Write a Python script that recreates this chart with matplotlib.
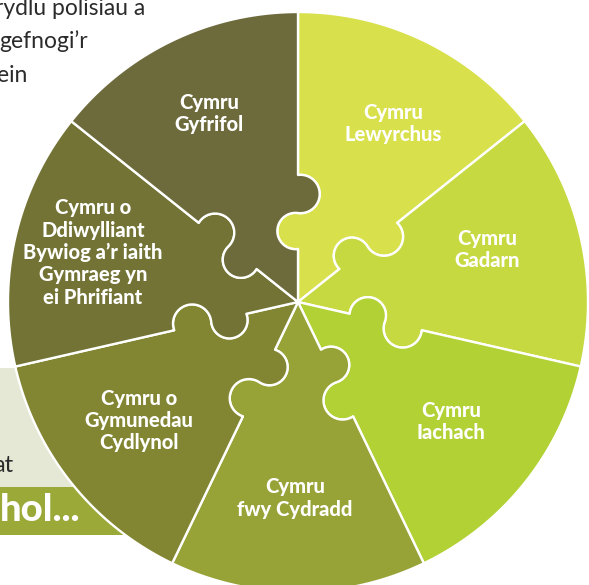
import numpy as np
import matplotlib
matplotlib.use("Agg")
import matplotlib.pyplot as plt
from matplotlib.patches import Polygon, Rectangle

# ---- data ----
labels = [
    "Cymru\nLewyrchus",
    "Cymru\nGadarn",
    "Cymru\nIachach",
    "Cymru\nfwy Cydradd",
    "Cymru o\nGymunedau\nCydlynol",
    "Cymru o\nDdiwylliant\nBywiog a’r iaith\nGymraeg yn\nei Phrifiant",
    "Cymru\nGyfrifol",
]
values = [1, 1, 1, 1, 1, 1, 1]
colors = ["#d8e04b", "#c7d940", "#b1d135", "#98a337", "#828531", "#727334", "#6d6b3c"]
top_text = ["rydlu polisiau a", "gefnogi’r", "ein"]
box_text = "at"
bar_text = "hol..."

plt.rcParams['font.family'] = ['Lato', 'DejaVu Sans']

W, H = 589, 585
fig = plt.figure(figsize=(W / 100, H / 100), dpi=100)
ax = fig.add_axes([0, 0, 1, 1])
cx, cy = 298, 302
ax.set_xlim(-cx, W - cx)
ax.set_ylim(-(H - cy), cy)
ax.set_aspect('equal')
ax.axis('off')

R = 290.0
# small nudges (pixels) of each label from its slice's mid-angle position
label_nudge = [(8, -2), (-6, 8), (-3, 5), (-3, 4), (-3, 6), (-10, 5), (-2, 8)]


def knob(rc, hw, d, side, u, v, n=50):
    rho = np.hypot(hw, d)
    a = np.arcsin(d / rho)
    phi = np.linspace(np.pi + a, -a, n)
    return [(rc + rho * np.cos(p)) * u + side * (d + rho * np.sin(p)) * v for p in phi]


def boundary(theta_deg):
    t = np.radians(theta_deg)
    u = np.array([np.cos(t), np.sin(t)])
    v = np.array([-np.sin(t), np.cos(t)])
    pts = [np.zeros(2)]
    pts += knob(71, 18, 2.5, +1, u, v)   # inner knob, bulging counter-clockwise
    pts += knob(108, 19, 2.5, -1, u, v)  # outer knob, bulging clockwise
    pts.append(R * u)
    return np.array(pts)


# ---- background elements ----
ax.add_patch(Rectangle((-cx, 302 - 487), 250, 487 - 368, facecolor="#e6e8d6",
                       edgecolor="none", zorder=1))
ax.add_patch(Rectangle((-cx, 302 - 535), 250, 535 - 487, facecolor="#9aa937",
                       edgecolor="none", zorder=1))
for txt, xs, yb in zip(top_text, [-5, -1, -3], [15, 48, 82]):
    ax.text(xs - cx, cy - yb, txt, fontsize=16.5, color="#2b2b2b", ha='left',
            va='baseline', zorder=2)
ax.text(13 - cx, cy - 472, box_text, fontsize=17, color="#2b2b2b", ha='right',
        va='baseline', zorder=2)
ax.text(0 - cx, cy - 521, bar_text, fontsize=27.5, color="white", fontweight='black',
        ha='left', va='baseline', zorder=2)

# ---- puzzle pie ----
total = float(sum(values))
start = 90.0
for lab, val, col, nud in zip(labels, values, colors, label_nudge):
    span = 360.0 * val / total
    a_hi = start
    a_lo = start - span
    arc_t = np.radians(np.linspace(a_lo, a_hi, 100))
    arc = np.column_stack([R * np.cos(arc_t), R * np.sin(arc_t)])
    pts = np.vstack([boundary(a_lo), arc, boundary(a_hi)[::-1]])
    ax.add_patch(Polygon(pts, closed=True, facecolor=col, edgecolor="white",
                         linewidth=1.7, joinstyle='round', zorder=5))
    mid = np.radians((a_hi + a_lo) / 2)
    lr = 200
    ax.text(lr * np.cos(mid) + nud[0], lr * np.sin(mid) + nud[1], lab, fontsize=14.5,
            color="white", fontweight='black', ha='center', va='center',
            multialignment='center', linespacing=1.2, zorder=6)
    start = a_lo

fig.savefig("out.png", dpi=100)
